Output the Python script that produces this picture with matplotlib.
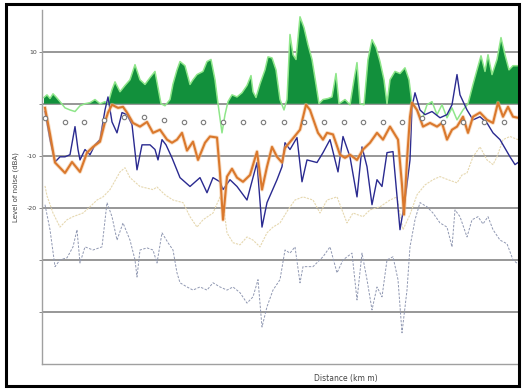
import matplotlib.pyplot as plt
import matplotlib.patches as mpatches
import numpy as np

# distance (km) and levels (dB)
green_x = [0.2, 0.5, 0.8, 1.1, 1.4, 1.8, 2.3, 2.8, 3.3, 3.8, 4.3, 4.8, 5.3, 5.8, 6.3, 6.6,
           7.0, 7.3, 7.8, 8.3, 8.8, 9.3, 9.8, 10.3, 10.8, 11.3, 11.6, 11.9, 12.3, 12.8,
           13.1, 13.5, 13.8, 14.3, 14.8, 15.1, 15.5, 16.1, 16.5, 16.9, 17.3, 17.6, 18.0,
           18.3, 18.6, 19.0, 19.5, 20.0, 20.5, 20.9, 21.1, 21.4, 21.8, 22.3, 22.6, 23.0,
           23.4, 23.8, 24.2, 24.5, 24.8, 25.1, 25.4, 25.8, 26.2, 26.6, 27.0, 27.4, 27.7,
           28.1, 28.6, 29.0, 29.4, 29.7, 30.3, 30.8, 31.2, 31.5, 31.8, 32.2, 32.6, 33.0,
           33.4, 33.8, 34.2, 34.5, 34.8, 35.3, 35.8, 36.3, 36.7, 37.0, 37.5, 38.0, 38.5,
           39.0, 39.5, 40.0, 40.5, 41.0, 41.5, 42.1, 42.6, 43.1, 43.5, 43.9, 44.3, 44.6,
           45.0, 45.5, 45.9, 46.3, 46.7, 47.1, 47.6]
green_y = [1.2, 1.7, 1.0, 1.9, 1.3, 0.4, -0.8, -1.2, -1.5, -0.4, 0.0, 0.2, 0.8, 0.0, 0.4, 0.0,
           2.7, 4.2, 2.3, 3.5, 4.6, 7.5, 4.6, 3.7, 5.0, 6.2, 3.1, 0.0, -0.4, 0.8,
           3.8, 6.5, 8.1, 7.3, 3.7, 4.6, 5.6, 6.2, 8.1, 8.5, 4.6, 0.0, -5.6,
           -2.1, 0.4, 1.7, 1.3, 2.1, 3.5, 5.4, 2.3, 1.2, 3.8, 6.5, 9.0, 8.8,
           6.5, 0.8, -1.2, 0.8, 13.3, 9.4, 8.5, 16.7, 14.6, 11.3, 8.5, 3.7, 0.0,
           0.8, 1.0, 1.3, 5.8, 0.0, 0.8, -0.2, 4.6, 7.9, 0.0, -0.2, 8.5, 12.3,
           10.8, 8.1, 4.6, 0.0, 4.6, 6.2, 5.8, 6.9, 4.6, 0.0, -1.2, -3.1, -0.2,
           0.4, -2.1, -0.2, -2.7, -0.8, -3.1, -1.2, 0.0, 3.7, 6.5, 9.2, 6.2, 9.4,
           5.6, 8.5, 12.7, 9.4, 6.5, 7.3, 7.3]

marker_x = [0.3, 2.3, 4.2, 6.2, 8.2, 10.2, 12.2, 14.2, 16.1, 18.1, 20.1, 22.1,
            24.2, 26.2, 28.2, 30.2, 32.1, 34.1, 36.0, 38.0, 40.1, 42.1, 44.2, 46.2]
marker_y = [-2.7, -3.5, -3.5, -3.1, -2.5, -2.5, -3.1, -3.5, -3.5, -3.5, -3.5, -3.5,
            -3.5, -3.5, -3.5, -3.5, -3.5, -3.5, -3.5, -2.7, -3.5, -3.5, -3.5, -3.5]

navy_x = [0.3, 0.8, 1.3, 1.8, 2.3, 2.8, 3.3, 3.6, 3.8, 4.3, 4.8, 5.3, 5.8, 6.3, 6.6, 7.0,
          7.5, 8.0, 8.5, 9.0, 9.5, 10.0, 10.8, 11.3, 11.6, 12.0, 12.4, 13.0, 13.8, 14.8,
          15.8, 16.5, 17.1, 17.8, 18.1, 18.8, 19.5, 20.5, 21.5, 22.0, 22.5, 23.5, 24.0,
          24.3, 24.8, 25.5, 26.0, 26.5, 27.5, 28.1, 28.8, 29.6, 30.1, 30.8, 31.5, 32.0,
          32.5, 33.0, 33.5, 34.0, 34.5, 35.1, 35.8, 36.3, 36.8, 37.0, 37.3, 37.8, 38.3,
          39.0, 39.8, 40.5, 41.0, 41.5, 41.8, 42.5, 43.1, 43.8, 44.5, 45.1, 45.8, 46.8,
          47.3, 47.6]
navy_y = [-1.5, -6.9, -11.2, -10.2, -10.2, -9.8, -4.4, -8.8, -10.8, -8.8, -9.8, -7.9, -6.9,
          -1.2, 1.3, -3.5, -5.6, -1.7, -2.1, -4.0, -12.7, -7.9, -7.9, -8.8, -10.8, -6.9,
          -7.9, -10.4, -14.2, -15.9, -14.2, -17.1, -14.2, -15.0, -16.5, -14.6, -15.9,
          -18.5, -11.3, -23.7, -19.0, -14.6, -12.1, -7.5, -8.8, -6.5, -15.0, -10.8,
          -11.3, -9.4, -6.9, -13.1, -6.3, -10.2, -17.9, -8.3, -12.1, -19.4, -14.6,
          -15.9, -9.4, -9.2, -24.2, -18.5, -10.8, -0.6, 2.1, -1.2, -2.1, -1.5, -2.7,
          -2.1, -0.2, 5.6, 1.7, -1.2, -3.1, -2.5, -3.7, -5.6, -6.9, -10.2, -11.7, -11.3]

orange_x = [0.3, 0.8, 1.3, 2.3, 3.0, 3.8, 4.5, 5.1, 5.8, 6.3, 6.6, 7.0, 7.6, 8.1, 8.5, 9.1,
            9.8, 10.5, 11.1, 11.8, 12.5, 13.0, 13.5, 14.0, 14.5, 15.1, 15.6, 16.3, 16.8,
            17.5, 17.8, 18.1, 18.5, 19.0, 19.5, 20.1, 20.8, 21.5, 22.0, 22.5, 23.0, 23.5,
            24.0, 24.3, 25.0, 25.8, 26.4, 26.8, 27.6, 28.1, 28.5, 29.1, 29.8, 30.3, 30.8,
            31.5, 32.1, 32.8, 33.5, 34.1, 34.8, 35.6, 36.0, 36.2, 36.5, 36.8, 37.0, 37.5,
            38.1, 38.8, 39.5, 40.0, 40.5, 41.0, 41.5, 42.1, 42.6, 43.1, 43.8, 44.5, 45.1,
            45.6, 46.1, 46.6, 47.1, 47.6]
orange_y = [-0.8, -5.8, -11.3, -13.3, -11.2, -13.1, -9.4, -8.3, -7.3, -3.5, -1.7, -0.2,
            -0.8, -0.6, -1.7, -3.7, -4.4, -3.5, -5.6, -5.0, -6.9, -7.5, -6.9, -5.6, -9.0,
            -7.3, -10.8, -7.5, -6.3, -6.5, -13.3, -22.3, -14.0, -12.5, -14.2, -15.0,
            -13.7, -9.2, -16.5, -12.1, -8.3, -10.2, -11.3, -8.5, -6.9, -5.0, -0.2, -1.2,
            -5.6, -6.9, -5.6, -5.9, -9.8, -10.4, -9.8, -10.8, -8.8, -7.5, -5.6, -6.9,
            -4.4, -6.9, -15.6, -21.3, -10.8, -2.5, 0.2, -1.2, -4.4, -3.7, -4.4, -3.7,
            -6.9, -5.0, -4.4, -2.5, -5.6, -2.5, -1.7, -3.1, -3.7, 0.2, -2.5, -0.6, -2.5,
            -2.7]

tan_x = [0.3, 0.5, 1.1, 1.8, 2.5, 3.1, 4.1, 4.8, 5.5, 6.1, 6.8, 7.8, 8.3, 8.8, 9.8, 11.1,
         11.5, 12.3, 13.1, 14.1, 14.8, 15.5, 16.1, 17.1, 17.8, 18.2, 18.5, 19.1, 19.8,
         20.5, 21.1, 21.8, 22.5, 23.1, 23.8, 24.6, 25.3, 26.1, 27.1, 27.8, 28.5, 29.5,
         30.5, 31.1, 32.1, 32.8, 33.8, 34.8, 35.5, 36.1, 36.8, 37.5, 38.3, 39.1, 39.8,
         40.6, 41.5, 42.0, 42.5, 43.1, 43.8, 44.5, 45.1, 45.5, 46.1, 46.8, 47.6]
tan_y = [-15.8, -17.7, -21.0, -23.7, -22.3, -21.7, -21.0, -19.8, -18.5, -17.9, -16.5,
         -13.1, -12.3, -14.2, -15.9, -16.5, -16.0, -17.5, -18.5, -19.0, -21.7, -23.7,
         -22.3, -21.0, -17.9, -20.4, -24.8, -26.7, -27.1, -25.6, -26.2, -27.5, -24.8,
         -23.7, -22.9, -20.4, -18.5, -17.9, -18.5, -21.0, -18.5, -17.9, -22.9, -21.0,
         -21.7, -20.4, -19.8, -18.5, -17.9, -24.2, -21.3, -17.5, -15.6, -14.6, -14.0,
         -14.6, -15.2, -13.7, -13.3, -10.2, -8.3, -10.8, -11.7, -10.2, -6.9, -6.3, -6.9]

gray_x = [0.3, 0.8, 1.3, 1.8, 2.5, 3.1, 3.5, 3.8, 4.3, 5.1, 6.0, 6.5, 7.0, 7.5, 8.1, 8.8,
          9.3, 9.5, 9.8, 10.5, 11.1, 11.5, 12.0, 12.6, 13.1, 13.5, 13.8, 14.5, 15.1, 15.8,
          16.5, 17.1, 17.8, 18.5, 19.1, 19.8, 20.5, 21.1, 21.6, 22.0, 22.5, 23.1, 23.8,
          24.3, 24.8, 25.3, 25.8, 26.1, 27.1, 28.1, 28.8, 29.5, 30.1, 31.0, 31.5, 32.0,
          32.5, 33.0, 33.5, 34.0, 34.5, 35.1, 35.6, 36.0, 36.5, 36.8, 37.3, 37.8, 38.5,
          39.1, 39.8, 40.5, 41.0, 41.3, 41.8, 42.5, 43.0, 43.6, 44.1, 44.6, 45.1, 45.8,
          46.5, 47.1, 47.6]
gray_y = [-19.4, -24.2, -31.3, -30.0, -29.6, -27.5, -24.2, -30.6, -27.5, -28.1, -27.5,
          -19.0, -21.7, -26.2, -22.9, -26.2, -30.0, -33.3, -28.1, -27.7, -28.1, -30.6,
          -24.8, -26.7, -28.1, -32.5, -34.4, -35.2, -35.8, -35.2, -35.8, -34.4, -35.2,
          -35.8, -35.2, -36.3, -38.3, -37.1, -33.8, -42.9, -39.0, -35.8, -33.8, -28.1,
          -28.7, -27.5, -34.4, -31.3, -31.3, -29.4, -27.5, -32.5, -30.0, -28.7, -37.7,
          -28.7, -33.8, -39.6, -35.2, -37.1, -30.0, -29.4, -33.8, -44.0, -35.8, -27.5,
          -22.3, -19.0, -19.8, -21.0, -22.9, -23.7, -27.5, -20.4, -21.7, -25.6, -22.3,
          -21.7, -23.1, -21.7, -24.2, -26.2, -26.9, -30.0, -30.8]

yticks = [10, 0, -10, -20, -30, -40]
ytick_labels = ["10", "", "-10", "-20", "", ""]

fig = plt.figure(figsize=(5.22, 3.91), dpi=100)
ax = fig.add_axes([42 / 522, 1 - 364 / 391, 476 / 522, 354 / 391])

# gridlines
for t in yticks:
    ax.axhline(t, color="#7a7a7a", lw=1.1, zorder=0)

# green area above zero, pale green edge
gx = np.array(green_x)
gy = np.array(green_y)
ax.fill_between(gx, 0, gy, where=gy > 0, interpolate=True, color="#12903c",
                lw=0, zorder=1)
ax.plot(gx, gy, color="#8fe68a", lw=1.1, zorder=2)

ax.plot(tan_x, tan_y, color="#e6d8b0", lw=0.8, ls=(0, (2, 1)), zorder=2)
ax.plot(gray_x, gray_y, color="#9098b2", lw=0.7, ls=(0, (2.5, 1.5)), zorder=2)
ax.plot(navy_x, navy_y, color="#2a2a90", lw=1.0, zorder=3)
ax.plot(orange_x, orange_y, color="#f2bb88", lw=2.8, alpha=0.5, zorder=3)
ax.plot(orange_x, orange_y, color="#da782c", lw=1.5, zorder=4)
ax.plot(marker_x, marker_y, ls="none", marker="o", ms=3.2, mfc="white",
        mec="#7a7a7a", mew=0.8, zorder=5)

ax.set_xlim(0, 47.6)
ax.set_ylim(-50, 18)
ax.set_yticks(yticks)
ax.set_yticklabels(ytick_labels)
ax.set_xticks([])
ax.tick_params(axis="y", length=2, width=0.6, color="#777777", labelsize=4.5,
               labelcolor="#444444", pad=1.5)
for side in ["top", "right"]:
    ax.spines[side].set_visible(False)
for side in ["left", "bottom"]:
    ax.spines[side].set_color("#a0a0a0")
    ax.spines[side].set_linewidth(1.0)

ax.set_ylabel("Level of noise (dBA)", fontsize=5, labelpad=6, color="#444444")
fig.text(346 / 522, 1 - 378 / 391, "Distance (km m)", fontsize=5.5,
         ha="center", va="center", color="#444444")

# outer frame
fig.patches.append(mpatches.Rectangle((6 / 522, 1 - 386 / 391), 513 / 522,
                                      382 / 391, transform=fig.transFigure,
                                      fill=False, ec="black", lw=2.2))

fig.savefig("out.png", dpi=100)
